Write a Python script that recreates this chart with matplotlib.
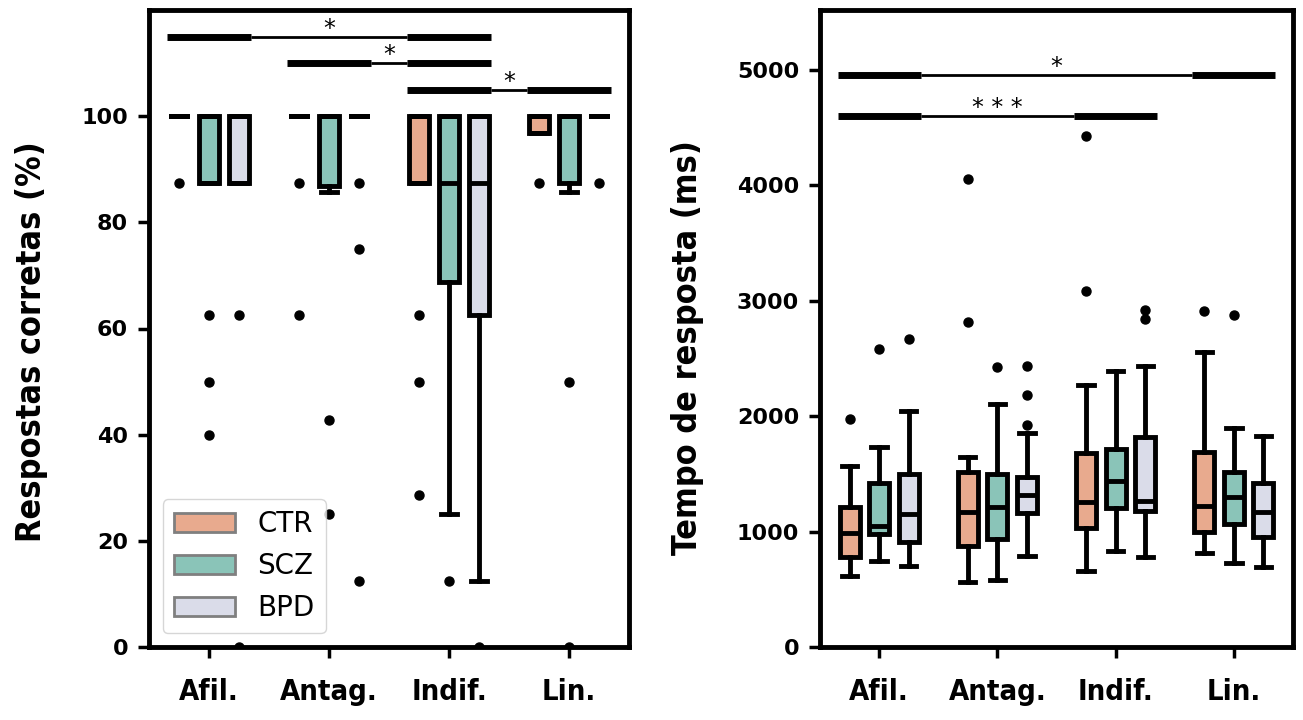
import numpy as np
import matplotlib.pyplot as plt
from matplotlib.patches import Patch

categories = ["Afil.", "Antag.", "Indif.", "Lin."]
groups = ["CTR", "SCZ", "BPD"]
colors = ["#E8AA8E", "#8AC4B8", "#DADCE9"]

# respostas corretas (%) - estatisticas das caixas, [categoria][grupo]
acc_q1 = [[100, 87.5, 87.5], [100, 86.8, 100], [87.5, 68.75, 62.5], [96.9, 87.5, 100]]
acc_med = [[100, 100, 100], [100, 100, 100], [100, 87.5, 87.5], [100, 100, 100]]
acc_q3 = [[100, 100, 100], [100, 100, 100], [100, 100, 100], [100, 100, 100]]
acc_lo = [[100, 87.5, 87.5], [100, 85.7, 100], [87.5, 25, 12.5], [96.9, 85.7, 100]]
acc_hi = [[100, 100, 100], [100, 100, 100], [100, 100, 100], [100, 100, 100]]
acc_out = [[[87.5], [62.5, 50, 40], [62.5, 0]],
           [[87.5, 62.5], [42.8, 25], [87.5, 75, 12.5]],
           [[62.5, 50, 28.6], [12.5], [0]],
           [[87.5], [50, 0], [87.5]]]

# tempo de resposta (ms)
rt_q1 = [[783, 975, 913], [878, 936, 1158], [1028, 1207, 1178], [1000, 1066, 956]]
rt_med = [[985, 1050, 1150], [1170, 1215, 1320], [1255, 1439, 1268], [1225, 1303, 1173]]
rt_q3 = [[1216, 1424, 1496], [1519, 1496, 1476], [1678, 1713, 1823], [1693, 1514, 1418]]
rt_lo = [[615, 745, 705], [566, 580, 791], [659, 835, 783], [812, 725, 696]]
rt_hi = [[1569, 1730, 2048], [1644, 2103, 1852], [2270, 2392, 2435], [2559, 1901, 1829]]
rt_out = [[[1976], [2585], [2672]],
          [[4058, 2819], [2429], [2435, 2183, 1924]],
          [[4428, 3088], [], [2920, 2840]],
          [[2915], [2877], []]]

# comparacoes significativas: (cat a, cat b, altura, texto)
acc_sig = [(0, 2, 115, "*"), (1, 2, 110, "*"), (2, 3, 105, "*")]
rt_sig = [(0, 3, 4960, "*"), (0, 2, 4600, "* * *")]

offsets = [-0.25, 0, 0.25]
label_font = dict(family="DejaVu Sans", fontstretch="condensed", fontweight="bold")

fig = plt.figure(figsize=(13.03, 7.2), dpi=100)
ax1 = fig.add_axes([149 / 1303, 73 / 720, 480 / 1303, 637 / 720])
ax2 = fig.add_axes([820 / 1303, 73 / 720, 473 / 1303, 637 / 720])


def draw_boxes(ax, q1, med, q3, lo, hi, out):
    for i in range(len(categories)):
        for j in range(len(groups)):
            st = dict(q1=q1[i][j], med=med[i][j], q3=q3[i][j],
                      whislo=lo[i][j], whishi=hi[i][j], fliers=out[i][j])
            ax.bxp([st], positions=[i + offsets[j]], widths=0.17, capwidths=0.13,
                   patch_artist=True, manage_ticks=False,
                   boxprops=dict(facecolor=colors[j], edgecolor="black", linewidth=3.5),
                   medianprops=dict(color="black", linewidth=3.5),
                   whiskerprops=dict(color="black", linewidth=3.5),
                   capprops=dict(color="black", linewidth=3.5),
                   flierprops=dict(marker="o", markerfacecolor="black",
                                   markeredgecolor="black", markersize=6.5))


def sig_bar(ax, a, b, y, txt):
    ax.plot([a - 0.35, a + 0.35], [y, y], color="black", lw=5, solid_capstyle="butt")
    ax.plot([b - 0.35, b + 0.35], [y, y], color="black", lw=5, solid_capstyle="butt")
    ax.plot([a + 0.35, b - 0.35], [y, y], color="black", lw=2, solid_capstyle="butt")
    ax.annotate(txt, xy=((a + b) / 2, y), xytext=(0, -3), textcoords="offset points",
                ha="center", va="bottom", fontsize=17)


draw_boxes(ax1, acc_q1, acc_med, acc_q3, acc_lo, acc_hi, acc_out)
draw_boxes(ax2, rt_q1, rt_med, rt_q3, rt_lo, rt_hi, rt_out)
for a, b, y, t in acc_sig:
    sig_bar(ax1, a, b, y, t)
for a, b, y, t in rt_sig:
    sig_bar(ax2, a, b, y, t)

ax1.set_ylim(0, 120)
ax1.set_yticks([0, 20, 40, 60, 80, 100])
ax2.set_ylim(0, 5520)
ax2.set_yticks([0, 1000, 2000, 3000, 4000, 5000])

for ax in (ax1, ax2):
    ax.set_xlim(-0.5, 3.5)
    ax.set_xticks(range(len(categories)))
    ax.set_xticklabels(categories, fontsize=21, **label_font)
    for lab in ax.get_yticklabels():
        lab.set_fontweight("bold")
        lab.set_fontsize(16)
    ax.tick_params(axis="y", width=2.5, length=8, pad=7)
    ax.tick_params(axis="x", width=2.5, length=8, pad=14)
    for s in ax.spines.values():
        s.set_linewidth(3.5)

ax1.set_ylabel("Respostas corretas (%)", fontsize=24.5, **label_font)
ax1.yaxis.set_label_coords(-0.21, 0.48)
ax2.set_ylabel("Tempo de resposta (ms)", fontsize=24.5, **label_font)
ax2.yaxis.set_label_coords(-0.245, 0.47)

handles = [Patch(facecolor=c, edgecolor="#7f7f7f", linewidth=2, label=g)
           for c, g in zip(colors, groups)]
ax1.legend(handles=handles, loc="lower left", fontsize=20, handlelength=2.2)

fig.savefig("out.png", dpi=100)
